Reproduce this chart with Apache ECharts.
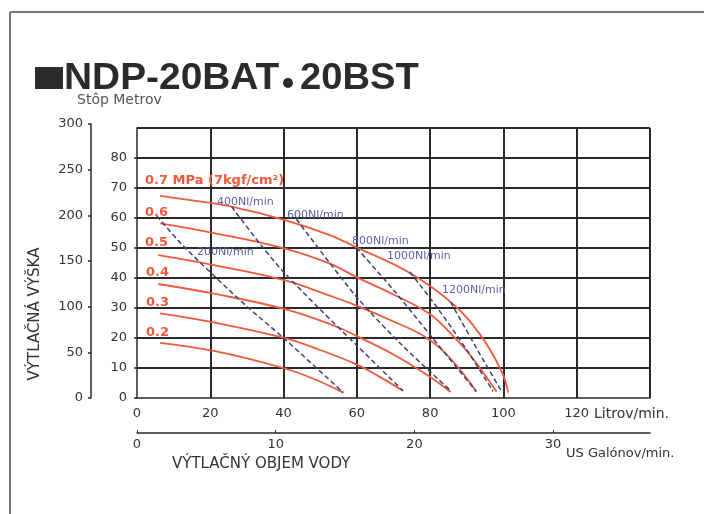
<!DOCTYPE html>
<html>
<head>
<meta charset="utf-8">
<script src="https://cdn.jsdelivr.net/npm/echarts@6/dist/echarts.min.js"></script>
<style>
html,body{margin:0;padding:0;background:#fff;}
#chart{width:704px;height:514px;}
</style>
</head>
<body>
<div id="chart"></div>
<script>
// tlakove krivky, body [Litrov/min, Metrov]
var p07 = [[6.3,67.4],[15,65.9],[25.8,63.8],[40.4,59.3],[52.6,54.3],[59.9,50.2],[74,42],[85.8,31.8],[93.6,21.2],[99.5,8.9],[101.3,1.8]];
var p06 = [[6.3,58.2],[21.3,54.9],[40.4,49.8],[52.6,44.8],[59.9,40.3],[70,34.5],[79.9,28],[86,21],[90.8,14.5],[98.1,2.2]];
var p05 = [[5.8,47.6],[21.3,44.2],[40.4,39.2],[52.6,34.1],[59.9,30.8],[70,25.5],[79,20.1],[86,12.5],[92.6,2.2]];
var p04 = [[5.8,38],[21.3,34.7],[40.4,29.6],[54,24],[59.9,20.7],[70,14.5],[79,7.8],[85.6,2]];
var p03 = [[6.3,28.2],[21.3,25.1],[39.9,20.1],[50,16],[59.9,11.2],[66,7.2],[72.6,2.4]];
var p02 = [[6.3,18.4],[21.3,15.6],[39.9,10],[48,6.5],[56.3,1.8]];

// spotreba vzduchu (Nl/min), ciarkovane
var a200 = [[5.4,60.7],[12,51.5],[20.8,41],[30,30.5],[39.9,20.1],[56.3,1.8]];
var a400 = [[25.8,63.8],[33.5,51.5],[39.5,42.7],[50,29.5],[60,17.5],[72.6,2.4]];
var a600 = [[43.5,59.6],[52.6,45],[60.4,33],[72,18],[85.8,2.2]];
var a800 = [[59.9,50.1],[70,36],[80,21],[92.6,2.2]];
var a1000 = [[74.5,42],[82,30],[90,16],[97.2,2.2]];
var a1200 = [[85.6,32],[92,18],[99.5,2.2]];

var pressureCurves = [p07, p06, p05, p04, p03, p02];
var airCurves = [a200, a400, a600, a800, a1000, a1200];
var pressureNames = ['0.7 MPa (7kgf/cm²)', '0.6', '0.5', '0.4', '0.3', '0.2'];
var airNames = ['200Nl/min', '400Nl/min', '600Nl/min', '800Nl/min', '1000Nl/min', '1200Nl/min'];

var RED = '#f05a3c';
var BLUE = '#5b5ea6';
var GRID = '#2a2a2a';
var TXT = '#333';

var chart = echarts.init(document.getElementById('chart'));

var series = [];
pressureCurves.forEach(function (d, i) {
    series.push({
        name: pressureNames[i], type: 'line', data: d, smooth: 0.4,
        showSymbol: false, symbol: 'none',
        lineStyle: {color: RED, width: 1.8}, z: 3
    });
});
airCurves.forEach(function (d, i) {
    series.push({
        name: airNames[i], type: 'line', data: d, smooth: 0.3,
        showSymbol: false, symbol: 'none',
        lineStyle: {color: '#3a4078', width: 1.5, type: [5, 3]}, z: 4
    });
});

// popisky pri krivkach
var labelGraphics = [];
var pressPos = [[145,181],[145,213],[145,243],[146,273],[146,303],[146,333]];
pressureNames.forEach(function (t, i) {
    labelGraphics.push({type: 'text', x: pressPos[i][0], y: pressPos[i][1], z: 10,
        style: {text: t, fill: RED, font: 'bold 13px "DejaVu Sans"', textVerticalAlign: 'middle'}});
});
var airPos = [[197,252],[217,202],[287,215],[352,241],[387,256],[442,290]];
airNames.forEach(function (t, i) {
    labelGraphics.push({type: 'text', x: airPos[i][0], y: airPos[i][1], z: 10,
        style: {text: t, fill: BLUE, font: '11px "DejaVu Sans"', textVerticalAlign: 'middle'}});
});

var option = {
    animation: false,
    backgroundColor: '#fff',
    grid: [
        {left: 137, top: 128, right: 54, bottom: 116},
        {left: 91, top: 124, width: 40, bottom: 116}
    ],
    xAxis: [
        {
            type: 'value', gridIndex: 0, min: 0, max: 140, interval: 20,
            position: 'bottom', offset: 5,
            axisLine: {show: true, lineStyle: {color: GRID, width: 1.5}},
            axisTick: {show: false},
            axisLabel: {color: TXT, fontFamily: 'DejaVu Sans', fontSize: 13, margin: 4, showMaxLabel: false},
            splitLine: {show: true, showMinLine: false, showMaxLine: true, lineStyle: {color: GRID, width: 2}}
        },
        {
            type: 'value', gridIndex: 0, min: 0, max: 140 / 3.785, interval: 10,
            position: 'bottom', offset: 35,
            axisLine: {show: true, lineStyle: {color: GRID, width: 1.5}},
            axisTick: {show: true, inside: true, length: 3, lineStyle: {color: GRID}},
            axisLabel: {color: TXT, fontFamily: 'DejaVu Sans', fontSize: 13, margin: 5, showMaxLabel: false},
            splitLine: {show: false}
        },
        {type: 'value', gridIndex: 1, show: false, min: 0, max: 1}
    ],
    yAxis: [
        {
            type: 'value', gridIndex: 0, min: 0, max: 90, interval: 10,
            position: 'left', offset: 2,
            axisLine: {show: true, lineStyle: {color: GRID, width: 1.5}},
            axisTick: {show: true, length: 3, lineStyle: {color: GRID, width: 1.5}},
            axisLabel: {color: TXT, fontFamily: 'DejaVu Sans', fontSize: 13, margin: 8, showMaxLabel: false},
            splitLine: {show: true, showMinLine: false, showMaxLine: true, lineStyle: {color: GRID, width: 2}}
        },
        {
            type: 'value', gridIndex: 1, min: 0, max: 300, interval: 50,
            position: 'left',
            axisLine: {show: true, lineStyle: {color: GRID, width: 1.5}},
            axisTick: {show: true, length: 3, lineStyle: {color: GRID, width: 1.5}},
            axisLabel: {color: TXT, fontFamily: 'DejaVu Sans', fontSize: 13, margin: 8},
            splitLine: {show: false}
        }
    ],
    series: series,
    graphic: [
        // ramik
        {type: 'line', shape: {x1: 10, y1: 12, x2: 704, y2: 12}, style: {stroke: '#777', lineWidth: 2}},
        {type: 'line', shape: {x1: 10, y1: 12, x2: 10, y2: 514}, style: {stroke: '#777', lineWidth: 2}},
        // nadpis
        {type: 'rect', shape: {x: 35, y: 67, width: 28, height: 22}, style: {fill: '#2b2b2b'}},
        {type: 'text', x: 64, y: 79, scaleX: 1.08, style: {text: 'NDP-20BAT', fill: '#2b2b2b', font: 'bold 36px "Liberation Sans"', textVerticalAlign: 'middle'}},
        {type: 'circle', shape: {cx: 288, cy: 83, r: 5}, style: {fill: '#2b2b2b'}},
        {type: 'text', x: 300, y: 79, scaleX: 1.06, style: {text: '20BST', fill: '#2b2b2b', font: 'bold 36px "Liberation Sans"', textVerticalAlign: 'middle'}},
        // nazvy osi
        {type: 'text', x: 77, y: 100, style: {text: 'Stôp Metrov', fill: '#555', font: '14px "DejaVu Sans"', textVerticalAlign: 'middle'}},
        {type: 'text', x: 35, y: 314, rotation: Math.PI / 2,
            style: {text: 'VÝTLAČNÁ VÝŠKA', fill: TXT, font: '15px "DejaVu Sans"', textAlign: 'center', textVerticalAlign: 'middle'}},
        {type: 'text', x: 594, y: 414, style: {text: 'Litrov/min.', fill: TXT, font: '14px "DejaVu Sans"', textVerticalAlign: 'middle'}},
        {type: 'text', x: 566, y: 454, style: {text: 'US Galónov/min.', fill: TXT, font: '13px "DejaVu Sans"', textVerticalAlign: 'middle'}},
        {type: 'text', x: 172, y: 464, style: {text: 'VÝTLAČNÝ OBJEM VODY', fill: TXT, font: '15px "DejaVu Sans"', textVerticalAlign: 'middle'}}
    ].concat(labelGraphics)
};

chart.setOption(option);
</script>
</body>
</html>
